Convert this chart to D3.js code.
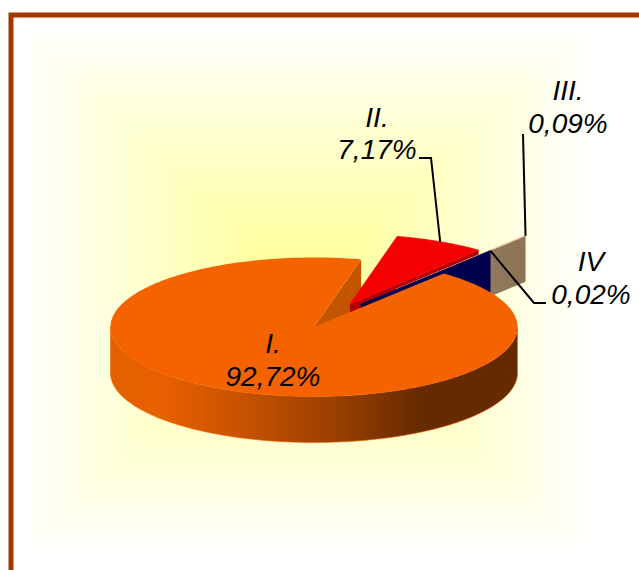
<!DOCTYPE html>
<html>
<head>
<meta charset="utf-8">
<script src="https://cdn.jsdelivr.net/npm/d3@7"></script>
<style>
  html, body { margin: 0; padding: 0; background: #fff; }
  svg { display: block; }
  text { font-family: "Liberation Sans", Arial, sans-serif; font-style: italic; font-size: 28px; fill: #000; }
</style>
</head>
<body>
<svg id="chart" width="639" height="570"></svg>
<script>
const categories = ["I.", "II.", "III.", "IV"];
const shares = [92.72, 7.17, 0.09, 0.02];
const shareLabels = ["92,72%", "7,17%", "0,09%", "0,02%"];
const topColors = ["#f56300", "#f50000", "#f0c8a4", "#00004f"];
const wallColors = ["#c45500", "#b30000", "#8f7659", "#00004f"];

// how far each slice is pulled out, x and y, in pie radii
const pullX = [0, 0.177, 0.403, 0.23];
const pullY = [0, 0.33, 0.54, 0.325];

const width = 639, height = 570;
const cx = 314, cy = 327, rx = 203.5, ry = 69.5, depth = 46;
const deg = Math.PI / 180;

const svg = d3.select("#chart").attr("viewBox", [0, 0, width, height]);
const defs = svg.append("defs");

// flattened pie: unit circle to screen
const x = d3.scaleLinear().domain([-1, 1]).range([cx - rx, cx + rx]);
const y = d3.scaleLinear().domain([-1, 1]).range([cy - ry, cy + ry]);

const pie = d3.pie().sort(null)
  .startAngle(39.6 * deg)
  .endAngle(39.6 * deg + 2 * Math.PI);
const slices = pie(shares);

const px = (a, i) => x(Math.sin(a) + pullX[i]);
const py = (a, i) => y(-Math.cos(a) - pullY[i]);
const centerPoint = i => [x(pullX[i]), y(-pullY[i])];
const edgePoint = (a, i) => [px(a, i), py(a, i)];

function arcPoints(a0, a1, i) {
  const n = Math.max(2, Math.ceil(Math.abs(a1 - a0) / deg));
  return d3.range(n + 1).map(k => edgePoint(a0 + (a1 - a0) * k / n, i));
}
const line = d3.line();
const closed = pts => line(pts) + "Z";
const drop = pts => pts.map(p => [p[0], p[1] + depth]);

// background: rectangular glow made of four triangles, one gradient each
const glowX = 305, glowY = 290, glowW = 285, glowH = 265;
const soft = defs.append("filter").attr("id", "soft")
  .attr("x", "-10%").attr("y", "-10%").attr("width", "120%").attr("height", "120%");
soft.append("feGaussianBlur").attr("stdDeviation", 5);

svg.append("rect").attr("width", width).attr("height", height).attr("fill", "#fff");
const corners = [[glowX - glowW, glowY - glowH], [glowX + glowW, glowY - glowH],
                 [glowX + glowW, glowY + glowH], [glowX - glowW, glowY + glowH]];
const glowEnds = [[glowX, glowY - glowH], [glowX + glowW, glowY], [glowX, glowY + glowH], [glowX - glowW, glowY]];
const glow = svg.append("g").attr("filter", "url(#soft)");
corners.forEach((c, i) => {
  const g = defs.append("linearGradient").attr("id", "glow" + i)
    .attr("gradientUnits", "userSpaceOnUse")
    .attr("x1", glowX).attr("y1", glowY).attr("x2", glowEnds[i][0]).attr("y2", glowEnds[i][1]);
  g.append("stop").attr("offset", 0).attr("stop-color", "#ffff90");
  g.append("stop").attr("offset", 1).attr("stop-color", "#ffffff");
  glow.append("path")
    .attr("d", closed([[glowX, glowY], c, corners[(i + 1) % 4]]))
    .attr("fill", "url(#glow" + i + ")")
    .attr("stroke", "url(#glow" + i + ")").attr("stroke-width", 1);
});

// frame runs off the right and the bottom
svg.append("rect").attr("x", 11).attr("y", 15).attr("width", width + 20).attr("height", height + 20)
  .attr("fill", "none").attr("stroke", "#a33700").attr("stroke-width", 5);

// side gradient for the big slice
const grad = defs.append("linearGradient").attr("id", "wallGrad")
  .attr("gradientUnits", "userSpaceOnUse").attr("x1", cx - rx).attr("x2", cx + rx).attr("y1", 0).attr("y2", 0);
[[0, "#e36000"], [0.12, "#e86000"], [0.35, "#c25000"], [0.55, "#9a4000"], [0.76, "#672a00"], [1, "#662a00"]]
  .forEach(s => grad.append("stop").attr("offset", s[0]).attr("stop-color", s[1]));

const tanGrad = defs.append("linearGradient").attr("id", "tanGrad")
  .attr("x1", 0).attr("x2", 1).attr("y1", 0).attr("y2", 0);
[[0, "#a08a72"], [1, "#8c7356"]]
  .forEach(s => tanGrad.append("stop").attr("offset", s[0]).attr("stop-color", s[1]));

const big = slices[0];

// cut face of the big slice, behind everything
const bigEnd = big.endAngle;
const bigCut = [centerPoint(0), edgePoint(bigEnd, 0), drop([edgePoint(bigEnd, 0)])[0], drop([centerPoint(0)])[0]];
svg.append("path").attr("d", closed(bigCut)).attr("fill", wallColors[0]);

// pulled out slices, back to front
function drawSlice(i, wallFill) {
  const s = slices[i];
  const c = centerPoint(i);
  const e = edgePoint(s.endAngle, i);
  const wall = [c, e, [e[0], e[1] + depth], [c[0], c[1] + depth]];
  svg.append("path").attr("d", closed(wall)).attr("fill", wallFill);
  svg.append("path")
    .attr("d", closed([c].concat(arcPoints(s.startAngle, s.endAngle, i))))
    .attr("fill", topColors[i])
    .attr("stroke", topColors[i]).attr("stroke-width", 0.8);
}
drawSlice(1, wallColors[1]);
drawSlice(2, "url(#tanGrad)");
drawSlice(3, wallColors[3]);

// outer wall of the big slice, only the front half shows
const front = arcPoints(90 * deg, 270 * deg, 0);
svg.append("path").attr("d", closed(front.concat(drop(front).reverse())))
  .attr("fill", "url(#wallGrad)")
  .attr("stroke", "#f56300").attr("stroke-width", 0.6);

// top of the big slice
svg.append("path")
  .attr("d", closed([centerPoint(0)].concat(arcPoints(big.startAngle, big.endAngle, 0))))
  .attr("fill", topColors[0]);

// leaders, each starts at its slice
const leader = d3.line();
const leaderStyle = p => p.attr("fill", "none").attr("stroke", "#000").attr("stroke-width", 2);

const midII = (slices[1].startAngle + slices[1].endAngle) / 2;
const ii = edgePoint(midII, 1);
leaderStyle(svg.append("path").attr("d", leader([[ii[0], ii[1]], [431, 158], [419, 158]])));
const iii = edgePoint(slices[2].endAngle, 2);
leaderStyle(svg.append("path").attr("d", leader([iii, [523, 134]])));
const iv = edgePoint(slices[3].endAngle, 3);
leaderStyle(svg.append("path").attr("d", leader([iv, [534, 303], [546, 303]])));

// labels
const labelX = [273, 377, 568, 591];
const nameY = [353, 127, 100, 271];
const shareY = [386, 159, 133, 304];
categories.forEach((c, i) => {
  svg.append("text").attr("x", labelX[i]).attr("y", nameY[i]).attr("text-anchor", "middle").text(c);
  svg.append("text").attr("x", labelX[i]).attr("y", shareY[i]).attr("text-anchor", "middle").text(shareLabels[i]);
});
</script>
</body>
</html>
